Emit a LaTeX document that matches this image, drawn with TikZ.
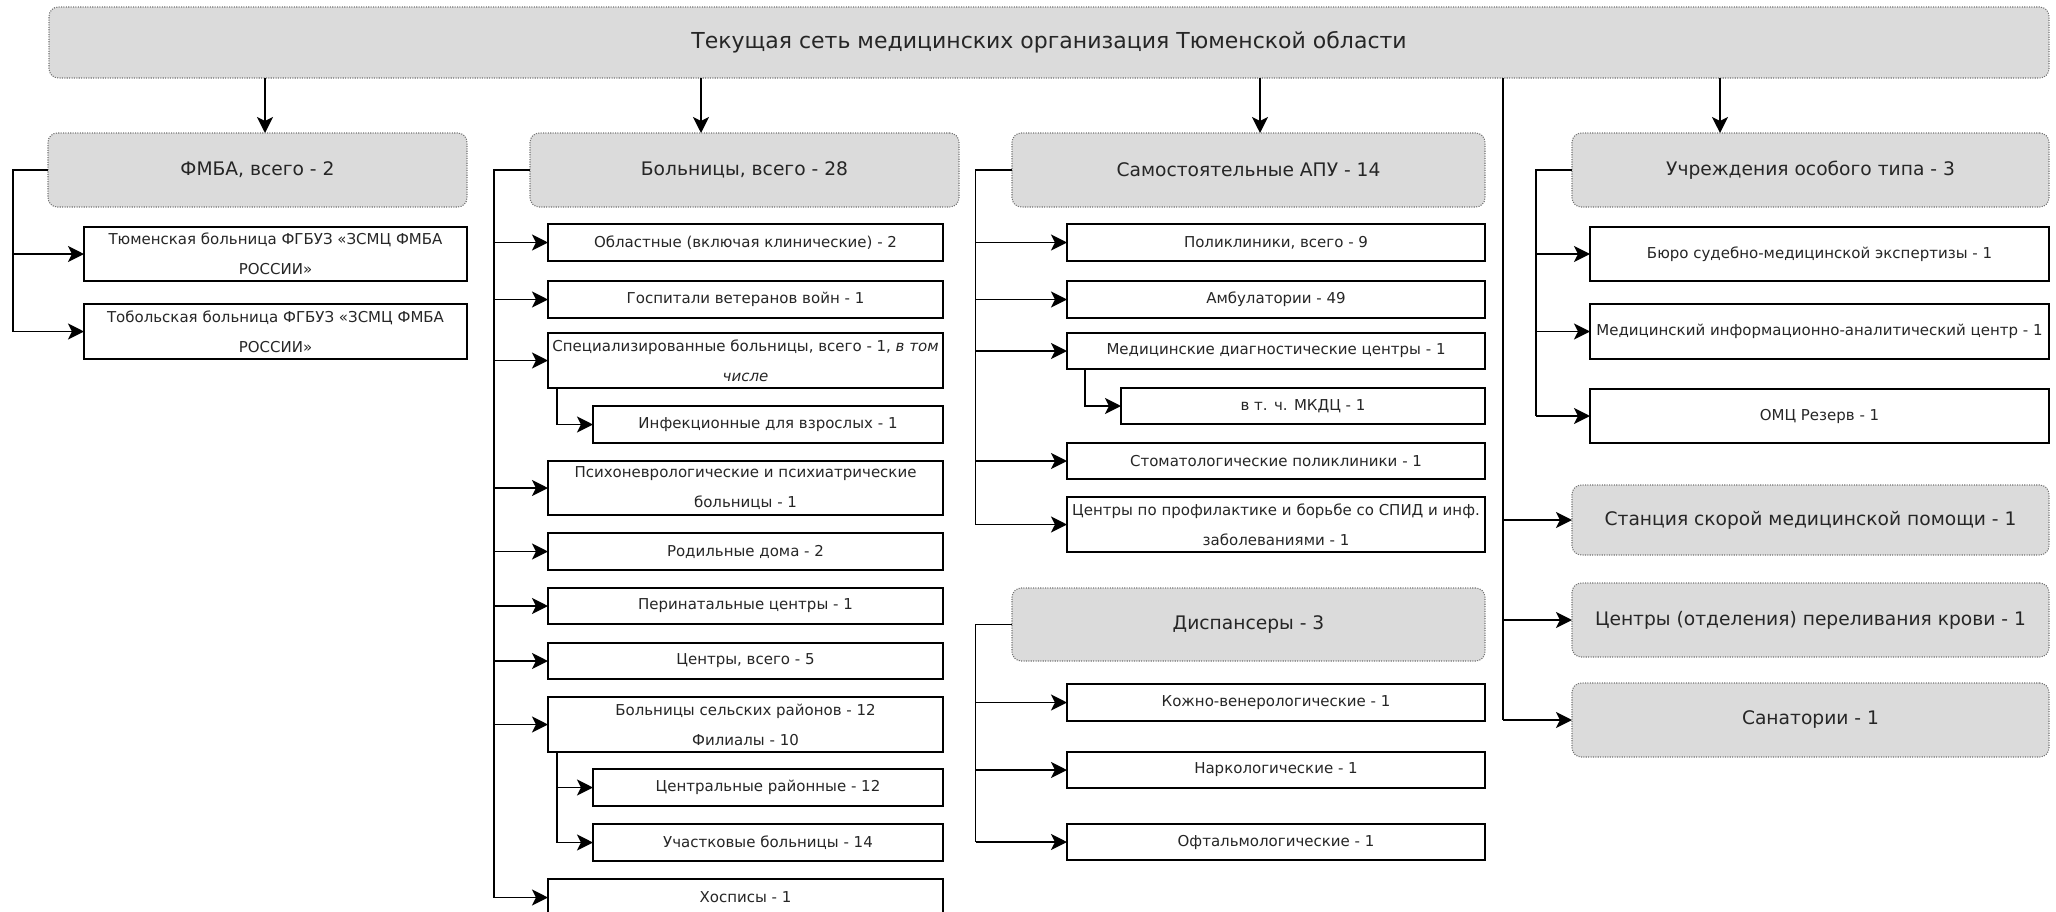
\documentclass[tikz,border=0pt]{standalone}
\usepackage{fontspec}
\setmainfont{DejaVu Sans}
\usetikzlibrary{arrows.meta}
\tikzset{
  child/.style={draw=black, line width=1.4pt, fill=white, inner sep=0pt, outer sep=0pt,
    align=center, font=\fontsize{11.25}{22.5}\selectfont, text=black!85},
  head/.style={draw=black!55, densely dotted, line width=0.8pt, fill=gray!28,
    rounded corners=7pt, inner sep=0pt, outer sep=0pt, align=center,
    font=\fontsize{14}{17}\selectfont, text=black!85},
  titlebox/.style={head, font=\fontsize{16.5}{20}\selectfont},
  conn/.style={line width=1.4pt, draw=black},
  arr/.style={conn, -{Stealth[length=12pt,width=12pt,inset=3pt]}}
}
\newcommand\bx[7]{\node[#1, minimum width={(#5-#3)*0.75pt}, minimum height={(#6-#4)*0.75pt}] (#2) at ({(#3+#5)/2},{(#4+#6)/2}) {#7};}
\begin{document}
\begin{tikzpicture}[x=0.75pt,y=-0.75pt]
\useasboundingbox (0,0) rectangle (2056,911);
\clip (0,0) rectangle (2056,911);
% title
\bx{titlebox}{T}{49}{7}{2049}{78}{Текущая сеть медицинских организация Тюменской области}
% headers
\bx{head}{fmba}{48}{133}{467}{207}{ФМБА, всего - 2}
\bx{head}{hosp}{530}{133}{959}{207}{Больницы, всего - 28}
\bx{head}{apu}{1012}{133}{1485}{207}{Самостоятельные АПУ - 14}
\bx{head}{osob}{1572}{133}{2049}{207}{Учреждения особого типа - 3}
\bx{head}{disp}{1012}{588}{1485}{661}{Диспансеры - 3}
\bx{head}{st1}{1572}{485}{2049}{555}{Станция скорой медицинской помощи - 1}
\bx{head}{st2}{1572}{583}{2049}{657}{Центры (отделения) переливания крови - 1}
\bx{head}{st3}{1572}{683}{2049}{757}{Санатории - 1}
% FMBA children
\bx{child}{f1}{84}{227}{467}{281}{Тюменская больница ФГБУЗ «ЗСМЦ ФМБА\\РОССИИ»}
\bx{child}{f2}{84}{304}{467}{359}{Тобольская больница ФГБУЗ «ЗСМЦ ФМБА\\РОССИИ»}
% hospital children
\bx{child}{h1}{548}{224}{943}{261}{Областные (включая клинические) - 2}
\bx{child}{h2}{548}{281}{943}{318}{Госпитали ветеранов войн - 1}
\bx{child}{h3}{548}{333}{943}{388}{Специализированные больницы, всего - 1, \textit{в том}\\\textit{числе}}
\bx{child}{h3a}{593}{406}{943}{443}{Инфекционные для взрослых - 1}
\bx{child}{h4}{548}{461}{943}{515}{Психоневрологические и психиатрические\\больницы - 1}
\bx{child}{h5}{548}{533}{943}{570}{Родильные дома - 2}
\bx{child}{h6}{548}{588}{943}{624}{Перинатальные центры - 1}
\bx{child}{h7}{548}{643}{943}{679}{Центры, всего - 5}
\bx{child}{h8}{548}{697}{943}{752}{Больницы сельских районов - 12\\Филиалы - 10}
\bx{child}{h8a}{593}{769}{943}{806}{Центральные районные - 12}
\bx{child}{h8b}{593}{824}{943}{861}{Участковые больницы - 14}
\bx{child}{h9}{548}{879}{943}{916}{Хосписы - 1}
% APU children
\bx{child}{a1}{1067}{224}{1485}{261}{Поликлиники, всего - 9}
\bx{child}{a2}{1067}{281}{1485}{318}{Амбулатории - 49}
\bx{child}{a3}{1067}{333}{1485}{369}{Медицинские диагностические центры - 1}
\bx{child}{a3a}{1121}{388}{1485}{424}{в т. ч. МКДЦ - 1}
\bx{child}{a4}{1067}{443}{1485}{479}{Стоматологические поликлиники - 1}
\bx{child}{a5}{1067}{497}{1485}{552}{Центры по профилактике и борьбе со СПИД и инф.\\заболеваниями - 1}
% dispensary children
\bx{child}{d1}{1067}{684}{1485}{721}{Кожно-венерологические - 1}
\bx{child}{d2}{1067}{752}{1485}{788}{Наркологические - 1}
\bx{child}{d3}{1067}{824}{1485}{860}{Офтальмологические - 1}
% special children
\bx{child}{o1}{1590}{227}{2049}{281}{Бюро судебно-медицинской экспертизы - 1}
\bx{child}{o2}{1590}{304}{2049}{359}{Медицинский информационно-аналитический центр - 1}
\bx{child}{o3}{1590}{389}{2049}{443}{ОМЦ Резерв - 1}
% helper coordinates
\coordinate (t1) at (265,0);
\coordinate (t2) at (701,0);
\coordinate (t3) at (1260,0);
\coordinate (t4) at (1720,0);
\coordinate (rt) at (1503,0);
\coordinate (fl) at (13,0);
\coordinate (hl) at (494,0);
\coordinate (hs) at (557,0);
\coordinate (al) at (975.5,0);
\coordinate (as) at (1085,0);
\coordinate (ol) at (1536,0);
% top arrows
\draw[arr] (T.south -| t1) -- (t1 |- fmba.north);
\draw[arr] (T.south -| t2) -- (t2 |- hosp.north);
\draw[arr] (T.south -| t3) -- (t3 |- apu.north);
\draw[arr] (T.south -| t4) -- (t4 |- osob.north);
% right trunk
\draw[conn] (T.south -| rt) -- (rt |- st3.west);
\foreach \n in {st1,st2,st3} \draw[arr] (rt |- \n.west) -- (\n.west);
% FMBA
\draw[conn] (fmba.west) -| (fl |- f2.west);
\foreach \n in {f1,f2} \draw[arr] (fl |- \n.west) -- (\n.west);
% hospitals
\draw[conn] (hosp.west) -| (hl |- h9.west);
\foreach \n in {h1,h2,h3,h4,h5,h6,h7,h8,h9} \draw[arr] (hl |- \n.west) -- (\n.west);
\draw[arr] (h3.south -| hs) |- (h3a.west);
\draw[arr] (h8.south -| hs) |- (h8b.west);
\draw[arr] (hs |- h8a.west) -- (h8a.west);
% APU
\draw[conn] (apu.west) -| (al |- a5.west);
\foreach \n in {a1,a2,a3,a4,a5} \draw[arr] (al |- \n.west) -- (\n.west);
\draw[arr] (a3.south -| as) |- (a3a.west);
% dispensaries
\draw[conn] (disp.west) -| (al |- d3.west);
\foreach \n in {d1,d2,d3} \draw[arr] (al |- \n.west) -- (\n.west);
% special
\draw[conn] (osob.west) -| (ol |- o3.west);
\foreach \n in {o1,o2,o3} \draw[arr] (ol |- \n.west) -- (\n.west);
\end{tikzpicture}
\end{document}
